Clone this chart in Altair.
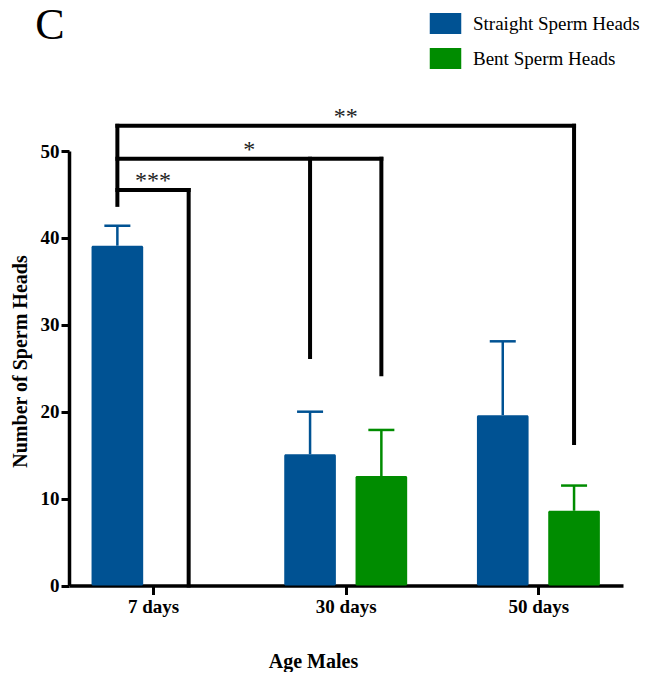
import altair as alt
import pandas as pd

# ---------------- data ----------------
ages = ["7 days", "30 days", "50 days"]
series = ["Straight Sperm Heads", "Bent Sperm Heads"]
straight_mean = [39.1, 15.1, 19.6]
straight_sem = [2.3, 4.9, 8.5]
bent_mean = [0.0, 12.6, 8.6]
bent_sem = [0.0, 5.3, 2.9]
colors = ["#005293", "#008C00"]

# significance brackets (heights in y units)
bracket_labels = ["***", "*", "**"]
bracket_levels = [45.5, 49.1, 52.9]
bracket_targets = [0, 1, 2]          # age index of the Bent bar each bracket reaches
bracket_target_drops = [0.0, 24.3, 16.4]
bracket_left_drop = 43.8
middle_drop_age = 1
middle_drop = 26.3

panel_letter = "C"
x_title = "Age Males"
y_title = "Number of Sperm Heads"

# ---------------- layout constants ----------------
OFF = 0.185       # offset of each series from the group centre (x units)
HALF_BAR = 0.134  # half bar width (x units)
HALF_CAP = 0.0675 # half error cap width (x units)
FONT = "Liberation Serif"

rows = []
for i, age in enumerate(ages):
    for s, name in enumerate(series):
        mean = straight_mean[i] if s == 0 else bent_mean[i]
        sem = straight_sem[i] if s == 0 else bent_sem[i]
        c = i + (-OFF if s == 0 else OFF)
        rows.append(dict(age=age, series=name, cx=c, x=c - HALF_BAR, x2=c + HALF_BAR,
                         cap1=c - HALF_CAP, cap2=c + HALF_CAP,
                         mean=mean, top=mean + sem, sem=sem))
df = pd.DataFrame(rows)
err = df[df["sem"] > 0]

seg = []
left_x = 0 - OFF
for lab, lev, t, d in zip(bracket_labels, bracket_levels, bracket_targets, bracket_target_drops):
    rx = t + OFF
    seg.append(dict(x=left_x, x2=rx, y=lev, y2=lev))
    seg.append(dict(x=rx, x2=rx, y=lev, y2=d))
seg.append(dict(x=left_x, x2=left_x, y=max(bracket_levels), y2=bracket_left_drop))
mx = middle_drop_age - OFF
seg.append(dict(x=mx, x2=mx, y=bracket_levels[1], y2=middle_drop))
seg_df = pd.DataFrame(seg)

lab_df = pd.DataFrame(dict(
    label=bracket_labels,
    x=[(left_x + t + OFF) / 2 for t in bracket_targets],
    y=bracket_levels,
))

xs = alt.Scale(domain=[-0.436, 2.439], nice=False, zero=False)
ys = alt.Scale(domain=[0, 50], nice=False)

label_expr = "[" + ",".join("'" + a + "'" for a in ages) + "][datum.value]"

xaxis = alt.Axis(values=[0, 1, 2], labelExpr=label_expr, grid=False,
                 tickSize=9, tickWidth=3, tickColor="black",
                 domainWidth=3.5, domainColor="black",
                 labelFont=FONT, labelFontWeight="bold", labelFontSize=19,
                 labelColor="black", labelPadding=3,
                 titleFont=FONT, titleFontWeight="bold", titleFontSize=20,
                 titleColor="black", titleX=244, titleY=81.5,
                 titleBaseline="alphabetic", titleAlign="center")
yaxis = alt.Axis(values=[0, 10, 20, 30, 40, 50], grid=False,
                 tickSize=8, tickWidth=3, tickColor="black",
                 domainWidth=3.5, domainColor="black",
                 labelFont=FONT, labelFontWeight="bold", labelFontSize=19,
                 labelColor="black", labelPadding=2,
                 titleFont=FONT, titleFontWeight="bold", titleFontSize=20,
                 titleColor="black", titleX=-49, titleY=210, titleAngle=-90,
                 titleBaseline="middle", titleAlign="center")

color = alt.Color("series:N", scale=alt.Scale(domain=series, range=colors),
                  legend=alt.Legend(title=None, orient="none", legendX=366, legendY=-138,
                                    symbolType="M-1.5,-1H1.5V1H-1.5Z", symbolSize=441,
                                    symbolStrokeWidth=0, symbolOpacity=1,
                                    labelFont=FONT, labelFontSize=19, labelColor="black",
                                    labelOffset=17, rowPadding=14, padding=0,
                                    labelLimit=300))

bars = alt.Chart(df).mark_bar(cornerRadius=1.5).encode(
    x=alt.X("x:Q", scale=xs, axis=xaxis, title=x_title),
    x2="x2:Q",
    y=alt.Y("mean:Q", scale=ys, axis=yaxis, title=y_title),
    y2=alt.datum(0),
    color=color,
)

err_lines = alt.Chart(err).mark_rule(strokeWidth=2.5).encode(
    x=alt.X("cx:Q", scale=xs), y=alt.Y("mean:Q", scale=ys), y2="top:Q",
    color=alt.Color("series:N", scale=alt.Scale(domain=series, range=colors), legend=None),
)
err_caps = alt.Chart(err).mark_rule(strokeWidth=2.5).encode(
    x=alt.X("cap1:Q", scale=xs), x2="cap2:Q", y=alt.Y("top:Q", scale=ys),
    color=alt.Color("series:N", scale=alt.Scale(domain=series, range=colors), legend=None),
)

brackets = alt.Chart(seg_df).mark_rule(strokeWidth=4, color="black", strokeCap="square").encode(
    x=alt.X("x:Q", scale=xs), x2="x2:Q",
    y=alt.Y("y:Q", scale=ys), y2="y2:Q",
)

stars = alt.Chart(lab_df).mark_text(font=FONT, fontSize=24, color="#222222",
                                    baseline="alphabetic", align="center", dy=-2).encode(
    x=alt.X("x:Q", scale=xs), y=alt.Y("y:Q", scale=ys), text="label:N",
)

letter = alt.Chart(pd.DataFrame(dict(t=[panel_letter]))).mark_text(
    font=FONT, fontSize=44, color="black", align="center", baseline="alphabetic"
).encode(x=alt.value(-19), y=alt.value(-112), text="t:N")

chart = alt.layer(bars, err_lines, err_caps, brackets, stars, letter).properties(
    width=554, height=434.5,
    autosize=alt.AutoSizeParams(type="none"),
    padding={"left": 61, "top": 143, "right": 26, "bottom": 86},
).configure_view(stroke=None)

chart.save("out.html", embed_options={"renderer": "svg", "actions": False})
